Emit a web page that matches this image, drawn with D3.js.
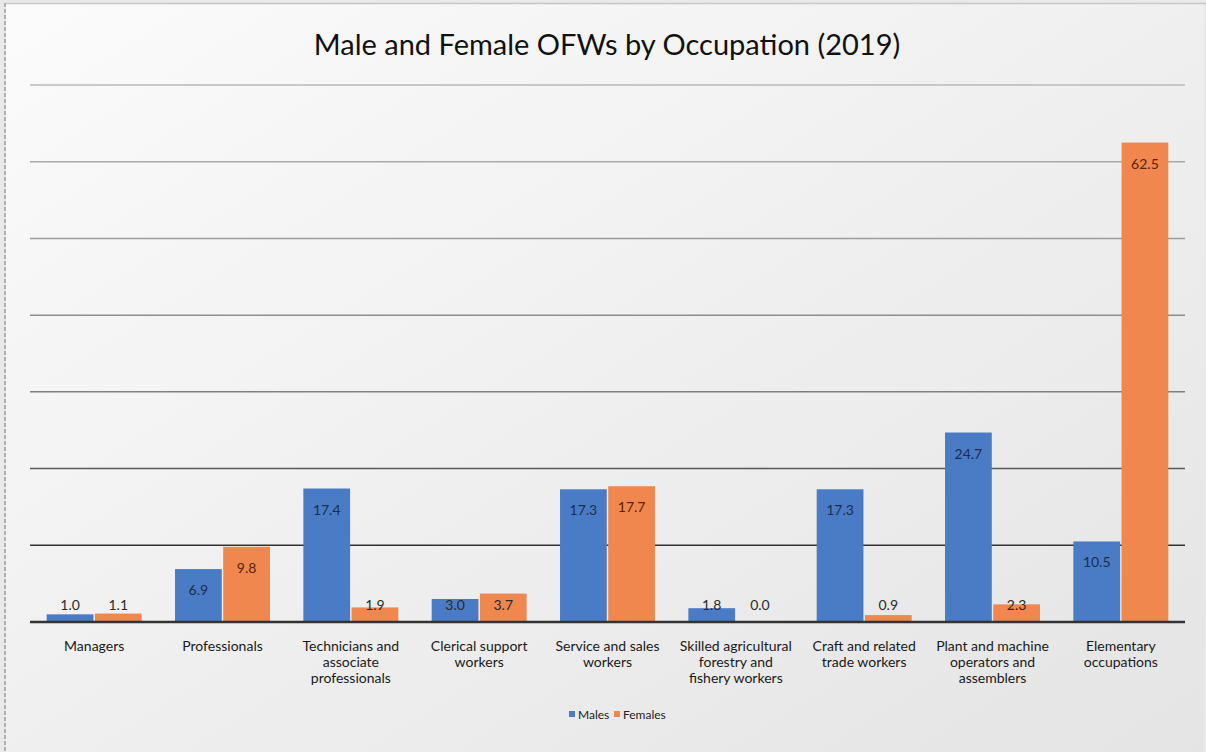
<!DOCTYPE html>
<html>
<head>
<meta charset="utf-8">
<script src="https://cdn.jsdelivr.net/npm/d3@7"></script>
<style>
  body { margin: 0; background: #ececec; }
  svg { display: block; font-family: Lato, "Open Sans", sans-serif; }
</style>
</head>
<body>
<div id="chart"></div>
<script>
const categories = [
  ["Managers"],
  ["Professionals"],
  ["Technicians and", "associate", "professionals"],
  ["Clerical support", "workers"],
  ["Service and sales", "workers"],
  ["Skilled agricultural", "forestry and", "fishery workers"],
  ["Craft and related", "trade workers"],
  ["Plant and machine", "operators and", "assemblers"],
  ["Elementary", "occupations"]
];
const series = ["Males", "Females"];
const males = [1.0, 6.9, 17.4, 3.0, 17.3, 1.8, 17.3, 24.7, 10.5];
const females = [1.1, 9.8, 1.9, 3.7, 17.7, 0.0, 0.9, 2.3, 62.5];
const gridTicks = [10, 20, 30, 40, 50, 60, 70];

const W = 1206, H = 752;
const margin = { top: 85, right: 21, bottom: 130, left: 30 };
const width = W - margin.left - margin.right,
  height = H - margin.top - margin.bottom;

const colors = { Males: "#4a7cc6", Females: "#f0874e" };
const labelColors = { Males: "#1a2d52", Females: "#5a2408" };

const svg = d3.select("#chart").append("svg")
  .attr("width", W).attr("height", H);

// background gradient
const defs = svg.append("defs");
const grad = defs.append("linearGradient").attr("id", "bg")
  .attr("x1", "0").attr("y1", "0").attr("x2", "1").attr("y2", "1");
grad.append("stop").attr("offset", "0%").attr("stop-color", "#fbfbfb");
grad.append("stop").attr("offset", "100%").attr("stop-color", "#e4e4e4");

svg.append("rect").attr("x", 0).attr("y", 0).attr("width", W).attr("height", H)
  .attr("fill", "#e9e9e9");
svg.append("rect").attr("x", 6).attr("y", 3).attr("width", W - 8).attr("height", H - 3)
  .attr("fill", "url(#bg)");
svg.append("line").attr("x1", 6).attr("x2", W).attr("y1", 3.5).attr("y2", 3.5)
  .attr("stroke", "#c8c8c8").attr("stroke-width", 1.5);
svg.append("line").attr("x1", 5).attr("x2", 5).attr("y1", 3).attr("y2", H)
  .attr("stroke", "#b0b0b0").attr("stroke-width", 2).attr("stroke-dasharray", "4,2");

svg.append("text")
  .attr("x", W / 2 + 4).attr("y", 55)
  .attr("text-anchor", "middle")
  .attr("font-size", 29)
  .attr("fill", "#111")
  .text("Male and Female OFWs by Occupation (2019)");

const g = svg.append("g")
  .attr("transform", "translate(" + margin.left + "," + margin.top + ")");

const x0 = d3.scaleBand().domain(d3.range(categories.length))
  .range([0, width]).paddingInner(0.26).paddingOuter(0.13);
const x1 = d3.scaleBand().domain(series).range([0, x0.bandwidth()]).paddingInner(0.03);
const y = d3.scaleLinear().domain([0, 70]).range([height, 0]);

// gridlines, darker toward bottom like in the picture
const gridShade = d3.scaleLinear().domain([10, 30, 70]).range(["#333", "#808080", "#b8b8b8"]);
g.append("g")
  .selectAll("line")
  .data(gridTicks)
  .enter()
  .append("line")
  .attr("x1", 0).attr("x2", width)
  .attr("y1", (d) => y(d)).attr("y2", (d) => y(d))
  .attr("stroke", (d) => gridShade(d))
  .attr("stroke-width", 1.5);

const rows = categories.map((c, i) => ({ i, Males: males[i], Females: females[i] }));

const groups = g.append("g").selectAll("g")
  .data(rows)
  .enter()
  .append("g")
  .attr("transform", (d) => "translate(" + x0(d.i) + ",0)");

groups.selectAll("rect")
  .data((d) => series.map((s) => ({ s, v: d[s] })))
  .enter()
  .append("rect")
  .attr("x", (d) => x1(d.s))
  .attr("width", x1.bandwidth())
  .attr("y", (d) => y(d.v))
  .attr("height", (d) => height - y(d.v))
  .attr("fill", (d) => colors[d.s]);

const labelMaxY = height - 17;
groups.selectAll("text")
  .data((d) => series.map((s) => ({ s, v: d[s] })))
  .enter()
  .append("text")
  .attr("x", (d) => x1(d.s) + x1.bandwidth() / 2)
  .attr("y", (d) => Math.min(y(d.v) + 21, labelMaxY) + 5)
  .attr("text-anchor", "middle")
  .attr("font-size", 14)
  .attr("fill", (d) => (y(d.v) + 21 > labelMaxY ? "#2a2a2a" : labelColors[d.s]))
  .text((d) => d.v.toFixed(1));

// baseline
g.append("line")
  .attr("x1", 0).attr("x2", width)
  .attr("y1", height).attr("y2", height)
  .attr("stroke", "#333").attr("stroke-width", 2.5);

// category labels
const catText = g.append("g").selectAll("text")
  .data(categories)
  .enter()
  .append("text")
  .attr("text-anchor", "middle")
  .attr("font-size", 14)
  .attr("fill", "#1a1a1a")
  .attr("transform", (d, i) => "translate(" + (x0(i) + x0.bandwidth() / 2) + "," + (height + 29) + ")");
catText.selectAll("tspan")
  .data((d) => d)
  .enter()
  .append("tspan")
  .attr("x", 0)
  .attr("dy", (d, i) => (i === 0 ? 0 : 16))
  .text((d) => d);

// legend
const legend = svg.append("g").attr("transform", "translate(" + 569 + "," + 717 + ")");
const legX = [0, 45];
series.forEach((s, i) => {
  legend.append("rect").attr("x", legX[i]).attr("y", -6).attr("width", 6).attr("height", 6)
    .attr("fill", colors[s]);
  legend.append("text").attr("x", legX[i] + 9).attr("y", 2)
    .attr("font-size", 12).attr("fill", "#222").text(s);
});
</script>
</body>
</html>
